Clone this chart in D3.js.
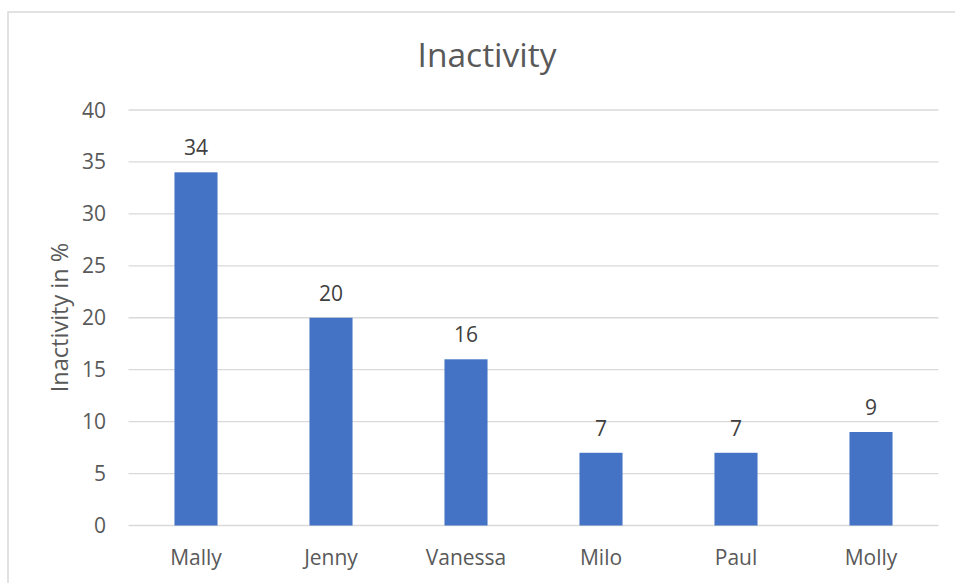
<!DOCTYPE html>
<html><head><meta charset="utf-8">
<script src="https://cdn.jsdelivr.net/npm/d3@7"></script>
<style>body{margin:0;background:#fff;}svg{display:block;}</style>
</head><body>
<script>
const categories = ["Mally","Jenny","Vanessa","Milo","Paul","Molly"];
const values = [34,20,16,7,7,9];
const yTicks = [0,5,10,15,20,25,30,35,40];
const title = "Inactivity";
const yTitle = "Inactivity in %";

const W=955,H=583;
const svg=d3.select("body").append("svg").attr("width",W).attr("height",H);
const font="'Open Sans','Liberation Sans',sans-serif";
svg.append("rect").attr("x",8).attr("y",12).attr("width",W).attr("height",H).attr("fill","#fff").attr("stroke","#d9d9d9").attr("stroke-width",1.5);

const x=d3.scaleBand().domain(categories).range([128.5,938.5]).paddingInner(0.681).paddingOuter(0.3405);
const y=d3.scaleLinear().domain([0,40]).range([525.5,110]);

svg.append("g").selectAll("line").data(yTicks).join("line")
 .attr("x1",128.5).attr("x2",938.5).attr("y1",d=>y(d)).attr("y2",d=>y(d))
 .attr("stroke","#d9d9d9").attr("stroke-width",1.3);

svg.append("g").selectAll("text").data(yTicks).join("text")
 .attr("x",106).attr("y",d=>y(d)).attr("dy","0.36em").attr("text-anchor","end")
 .attr("font-family",font).attr("font-size",21).attr("fill","#595959").text(d=>d);

svg.append("g").selectAll("rect").data(values).join("rect")
 .attr("x",(d,i)=>x(categories[i])).attr("width",x.bandwidth())
 .attr("y",d=>y(d)).attr("height",d=>y(0)-y(d)).attr("fill","#4472C4");

svg.append("g").selectAll("text").data(values).join("text")
 .attr("x",(d,i)=>x(categories[i])+x.bandwidth()/2).attr("y",d=>y(d)-17)
 .attr("text-anchor","middle").attr("font-family",font).attr("font-size",21).attr("fill","#404040").text(d=>d);

svg.append("g").selectAll("text").data(categories).join("text")
 .attr("x",d=>x(d)+x.bandwidth()/2).attr("y",565)
 .attr("text-anchor","middle").attr("font-family",font).attr("font-size",21).attr("fill","#595959").text(d=>d);

svg.append("text").attr("x",487).attr("y",67).attr("text-anchor","middle")
 .attr("font-family",font).attr("font-size",33.5).attr("fill","#595959").text(title);

svg.append("text").attr("transform","translate(68,317.5) rotate(-90)").attr("text-anchor","middle")
 .attr("font-family",font).attr("font-size",23.5).attr("fill","#595959").text(yTitle);
</script>
</body></html>
